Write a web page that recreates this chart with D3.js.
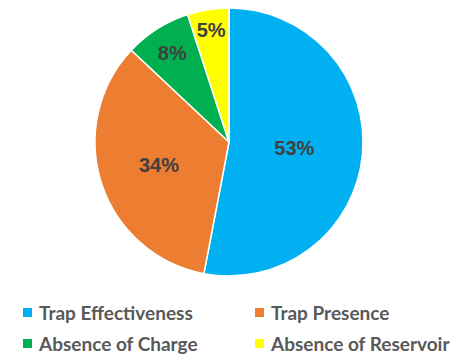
<!DOCTYPE html>
<html>
<head>
<meta charset="utf-8">
<script src="https://cdn.jsdelivr.net/npm/d3@7"></script>
<style>
  body { margin: 0; background: #fff; }
  svg { display: block; }
</style>
</head>
<body>
<div id="chart-area"></div>
<script>
// Data
var categories = ["Trap Effectiveness", "Trap Presence", "Absence of Charge", "Absence of Reservoir"];
var values = [53, 34, 8, 5];
var colors = ["#00B0F0", "#ED7D31", "#00B050", "#FFFF00"];

var width = 451, height = 356;
var cx = 229, cy = 142, radius = 134;

// label distance from centre, as a fraction of radius (best-fit placement)
var labelFrac = [0.49, 0.55, 0.79, 0.85];

var svg = d3.select("#chart-area").append("svg")
    .attr("width", width)
    .attr("height", height);

var g = svg.append("g")
    .attr("transform", "translate(" + cx + "," + cy + ")");

var pie = d3.pie().sort(null).value(function(d) { return d; });
var arcs = pie(values);

var arc = d3.arc().innerRadius(0).outerRadius(radius);

g.selectAll("path.slice")
    .data(arcs)
    .enter().append("path")
    .attr("class", "slice")
    .attr("d", arc)
    .attr("fill", function(d, i) { return colors[i]; })
    .attr("stroke", "#fff")
    .attr("stroke-width", 1.5);

// Percent labels
g.selectAll("text.pct")
    .data(arcs)
    .enter().append("text")
    .attr("class", "pct")
    .attr("transform", function(d, i) {
        var r = radius * labelFrac[i];
        var a = (d.startAngle + d.endAngle) / 2;
        return "translate(" + (Math.sin(a) * r) + "," + (-Math.cos(a) * r) + ")";
    })
    .attr("text-anchor", "middle")
    .attr("dy", "0.36em")
    .attr("font-family", "Liberation Sans, Arial, sans-serif")
    .attr("font-weight", "bold")
    .attr("font-size", "20px")
    .attr("fill", "#404040")
    .text(function(d) { return d.value + "%"; });

// Legend
var legendX = [23, 255], legendY = [320, 351];
var legend = svg.selectAll("g.legend")
    .data(categories)
    .enter().append("g")
    .attr("class", "legend")
    .attr("transform", function(d, i) {
        return "translate(" + legendX[i % 2] + "," + legendY[Math.floor(i / 2)] + ")";
    });

legend.append("rect")
    .attr("x", 0)
    .attr("y", -12)
    .attr("width", 9)
    .attr("height", 9)
    .attr("fill", function(d, i) { return colors[i]; });

legend.append("text")
    .attr("x", 16)
    .attr("y", 0)
    .attr("font-family", "Lato, sans-serif")
    .attr("font-weight", "bold")
    .attr("font-size", "19px")
    .attr("fill", "#595959")
    .text(function(d) { return d; });
</script>
</body>
</html>
